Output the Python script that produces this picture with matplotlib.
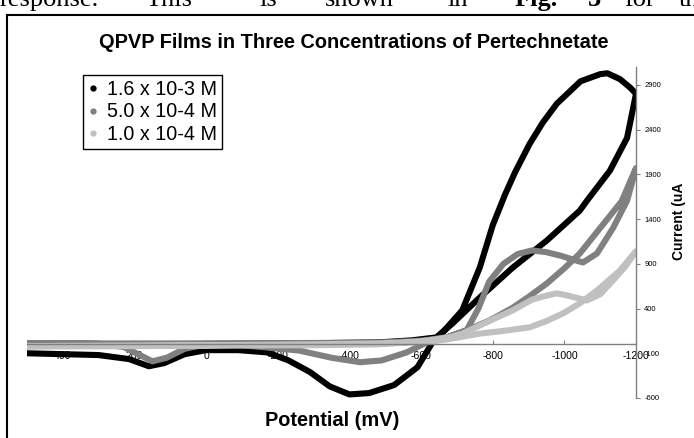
import matplotlib
matplotlib.use("Agg")
import matplotlib.pyplot as plt
from matplotlib.lines import Line2D

plt.rcParams['font.family'] = ['Liberation Sans', 'DejaVu Sans']

# cyclic scans, potential (mV) and current (uA), forward then return
black_mv = [500, 400, 300, 215, 160, 117, 60, 0, -90, -170, -230, -290, -345, -400, -455,
            -525, -590, -630, -665, -715, -764, -800, -834, -862, -903, -940, -979, -1045,
            -1100, -1120, -1155, -1185, -1200,
            -1175, -1127, -1063, -1043, -951, -856, -764, -688, -643, -576, -484, -300, 0, 200, 500]
black_ua = [-100, -110, -120, -165, -245, -210, -110, -65, -65, -90, -180, -310, -470, -560, -545,
            -455, -256, 10, 155, 380, 860, 1330, 1670, 1920, 2240, 2480, 2690, 2940,
            3020, 3030, 2965, 2865, 2800,
            2307, 1940, 1605, 1494, 1160, 858, 524, 234, 78, 45, 22, 12, 5, 0, -15]

grey_mv = [500, 400, 300, 230, 190, 150, 110, 60, 0, -100, -170, -260, -350, -430, -490,
           -560, -615, -671, -727, -760, -790, -830, -870, -910, -950, -990, -1030, -1052,
           -1091, -1136, -1175, -1200,
           -1160, -1120, -1080, -1043, -1000, -951, -900, -856, -792, -727, -671, -600, -484,
           -300, 0, 300, 500]
grey_ua = [10, 10, 5, -30, -110, -190, -150, -50, 0, -10, -35, -70, -150, -200, -180,
           -90, 20, 78, 156, 400, 700, 900, 1010, 1050, 1030, 990, 940, 915,
           1015, 1300, 1605, 1970,
           1600, 1400, 1200, 1015, 850, 680, 530, 410, 268, 156, 78, 40, 20,
           15, 10, 10, 10]

light_mv = [500, 200, 0, -300, -480, -560, -624, -680, -716, -790, -856, -910, -951, -979,
            -1010, -1043, -1063, -1100, -1136, -1170, -1200,
            -1155, -1091, -1040, -996, -950, -903, -830, -764, -680, -624, -484, -300, 0, 300, 500]
light_ua = [-25, -20, -15, -10, 0, 20, 45, 80, 120, 260, 380, 500, 545, 570,
            545, 510, 490, 560, 715, 870, 1040,
            825, 600, 450, 345, 260, 190, 150, 120, 60, 30, 10, 0, -10, -15, -20]

labels = ['1.6 x 10-3 M', '5.0 x 10-4 M', '1.0 x 10-4 M']
colors = ['#000000', '#808080', '#c0c0c0']
x_ticks = [400, 200, 0, -200, -400, -600, -800, -1000, -1200]
y_ticks = [-600, -100, 400, 900, 1400, 1900, 2400, 2900]

W, H = 694, 438
fig = plt.figure(figsize=(W / 100, H / 100), dpi=100)
ax = fig.add_axes([27 / W, 1 - 398 / H, 609 / W, 331 / H])

series = [(black_mv, black_ua), (grey_mv, grey_ua), (light_mv, light_ua)]
for (xs, ys), c in zip(series, colors):
    ax.plot(xs, ys, color=c, lw=4.4, solid_joinstyle='round', solid_capstyle='round')

ax.set_xlim(500, -1200)
ax.set_ylim(-600, 3100)
ax.set_xticks(x_ticks)
ax.set_yticks(y_ticks)
ax.set_xticklabels([str(v) for v in x_ticks])
ax.set_yticklabels([str(v) for v in y_ticks])

for s in ['top', 'left']:
    ax.spines[s].set_visible(False)
ax.spines['bottom'].set_position(('data', 0))
for s in ['bottom', 'right']:
    ax.spines[s].set_color('#808080')
    ax.spines[s].set_linewidth(1)
ax.yaxis.tick_right()
ax.tick_params(axis='x', direction='in', length=3, color='#808080', labelsize=7.6, pad=5)
ax.tick_params(axis='y', direction='out', length=3, color='#808080', labelsize=5.5, pad=3)

fig.text(354 / W, 1 - 42.5 / H, 'QPVP Films in Three Concentrations of Pertechnetate',
         ha='center', va='center', fontsize=14.4, fontweight='bold')
fig.text(332 / W, 1 - 421 / H, 'Potential (mV)', ha='center', va='center',
         fontsize=14.4, fontweight='bold')
fig.text(679 / W, 1 - 221 / H, 'Current (uA', ha='center', va='center', rotation=90,
         fontsize=10, fontweight='bold')

handles = [Line2D([], [], ls='none', marker='o', ms=3.5, color=c) for c in colors]
fig.legend(handles, labels, loc='upper left', bbox_to_anchor=(83 / W, 1 - 75 / H),
           frameon=True, fancybox=False, edgecolor='black', framealpha=1,
           fontsize=14.2, handlelength=0.5, handletextpad=0.45, labelspacing=0.18,
           borderpad=0.25, borderaxespad=0)

# page frame around the chart
fig.add_artist(Line2D([7 / W, 7 / W], [0, 1 - 14.5 / H], color='black', lw=1.5,
                      transform=fig.transFigure))
fig.add_artist(Line2D([7 / W, 1], [1 - 14.5 / H, 1 - 14.5 / H], color='black', lw=1.5,
                      transform=fig.transFigure))

# cropped line of body text above the figure
words = [('response.', 0, 'normal'), ('This', 146, 'normal'), ('is', 259, 'normal'),
         ('shown', 325, 'normal'), ('in', 447, 'normal'), ('Fig.', 515, 'bold'),
         ('3', 588, 'bold'), ('for', 624, 'normal'), ('three', 679, 'normal')]
for w, x, fw in words:
    fig.text(x / W, 1 - 6 / H, w, ha='left', va='baseline', fontsize=19,
             family='Liberation Serif', fontweight=fw)

fig.savefig('out.png', dpi=100)
